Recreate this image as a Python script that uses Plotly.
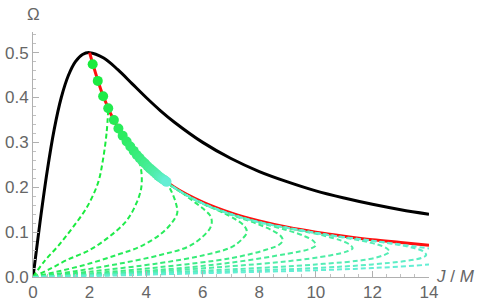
import plotly.graph_objects as go

# Black curve
black_j = [0, 0.25, 0.5, 0.75, 1, 1.25, 1.5, 1.75, 2, 2.5, 3, 3.5, 4, 4.5, 5, 6, 7, 8, 9, 10, 11, 12, 13, 14]
black_w = [0, 0.123, 0.235, 0.329, 0.4, 0.449, 0.48, 0.496, 0.5, 0.488, 0.462, 0.431, 0.4, 0.371, 0.345,
           0.3, 0.264, 0.235, 0.212, 0.192, 0.176, 0.162, 0.150, 0.14]

# Red curve
red_j = [2, 2.5, 3, 3.5, 4, 5, 6, 7, 8, 9, 10, 11, 12, 13, 14]
red_w = [0.5, 0.4, 0.333, 0.286, 0.25, 0.2, 0.167, 0.143, 0.125, 0.111, 0.1, 0.091, 0.083, 0.077, 0.071]

# End-point dots
dot_j = [2.11, 2.29, 2.48, 2.66, 2.86, 3.02, 3.17, 3.31, 3.44, 3.56, 3.67, 3.77, 3.87, 3.96, 4.05,
         4.13, 4.21, 4.28, 4.35, 4.42, 4.48, 4.54, 4.59, 4.64, 4.68, 4.72]
dot_w = [0.474, 0.437, 0.403, 0.376, 0.350, 0.331, 0.315, 0.302, 0.291, 0.281, 0.272, 0.265, 0.258,
         0.253, 0.247, 0.242, 0.238, 0.234, 0.230, 0.226, 0.223, 0.220, 0.218, 0.216, 0.214, 0.212]

# Dashed curves
c1_j = [0, 0.4, 0.9, 1.4, 1.91, 2.3, 2.47, 2.6, 2.66]
c1_w = [0, 0.035, 0.07, 0.11, 0.156, 0.21, 0.26, 0.32, 0.373]
c2_j = [0, 0.6, 1.2, 2.0, 2.7, 3.3, 3.66, 3.83, 3.82, 3.7, 3.5]
c2_w = [0, 0.018, 0.038, 0.06, 0.09, 0.125, 0.165, 0.2, 0.24, 0.266, 0.285]
c3_j = [0, 1, 2, 3, 3.8, 4.5, 4.9, 5.1, 5.05, 4.9, 4.72]
c3_w = [0, 0.014, 0.03, 0.05, 0.068, 0.095, 0.12, 0.143, 0.165, 0.19, 0.211]
c4_j = [0, 1.5, 3, 4.5, 5.5, 6.0, 6.27, 6.32, 6.25, 6.0, 5.6, 5.2, 4.75]
c4_w = [0, 0.013, 0.029, 0.049, 0.068, 0.09, 0.11, 0.125, 0.138, 0.153, 0.172, 0.191, 0.209]
c5_j = [0, 2, 4.5, 6, 7, 7.4, 7.56, 7.48, 7.2, 6.7, 6.0, 5.3, 4.75]
c5_w = [0, 0.012, 0.031, 0.048, 0.066, 0.085, 0.1, 0.113, 0.127, 0.144, 0.163, 0.187, 0.209]
c6_j = [0, 2, 4.5, 7, 8.2, 8.7, 8.83, 8.75, 8.45, 7.9, 7.0, 6.0, 5.3, 4.75]
c6_w = [0, 0.008, 0.022, 0.042, 0.06, 0.072, 0.082, 0.092, 0.104, 0.119, 0.139, 0.164, 0.187, 0.209]
c7_j = [0, 2, 4.5, 7, 9, 9.8, 10.0, 9.92, 9.6, 9.0, 8.0, 7.0, 6.0, 5.3, 4.75]
c7_w = [0, 0.006, 0.016, 0.032, 0.052, 0.063, 0.071, 0.08, 0.091, 0.104, 0.121, 0.14, 0.164, 0.187, 0.209]
c8_j = [0, 2, 4.5, 7, 9, 10.5, 11.1, 11.3, 11.2, 10.9, 10.3, 9.3, 8.0, 7.0, 6.0, 5.3, 4.75]
c8_w = [0, 0.005, 0.013, 0.024, 0.035, 0.048, 0.057, 0.064, 0.072, 0.081, 0.092, 0.105, 0.122, 0.14, 0.164, 0.187, 0.209]
c9_j = [0, 2, 4.5, 7, 10, 11.9, 12.45, 12.6, 12.5, 12.2, 11.6, 10.5, 9.3, 8.0, 7.0, 6.0, 5.3, 4.75]
c9_w = [0, 0.004, 0.01, 0.017, 0.028, 0.04, 0.05, 0.056, 0.064, 0.072, 0.081, 0.093, 0.106, 0.122, 0.14, 0.164, 0.187, 0.209]
c10_j = [0, 2, 4.5, 7, 10, 12, 13.2, 13.75, 13.9, 13.8, 13.5, 12.9, 11.8, 10.5, 9.3, 8.0, 7.0, 6.0, 5.3, 4.75]
c10_w = [0, 0.003, 0.008, 0.013, 0.02, 0.028, 0.036, 0.043, 0.049, 0.057, 0.064, 0.072, 0.082, 0.093, 0.106, 0.122, 0.14, 0.164, 0.187, 0.209]
c11_j = [0, 2, 4.5, 7, 10, 12, 14, 15.0, 15.2, 15.1, 14.5, 13.5, 12, 10.5, 9.3, 8, 7, 6, 5.3, 4.75]
c11_w = [0, 0.002, 0.006, 0.01, 0.015, 0.02, 0.028, 0.038, 0.044, 0.051, 0.059, 0.068, 0.081, 0.093, 0.106, 0.122, 0.14, 0.164, 0.187, 0.209]

x_ticks = [0, 2, 4, 6, 8, 10, 12, 14]
x_tick_labels = ["0", "2", "4", "6", "8", "10", "12", "14"]
y_ticks = [0, 0.1, 0.2, 0.3, 0.4, 0.5]
y_tick_labels = ["0.0", "0.1", "0.2", "0.3", "0.4", "0.5"]

curves = [(c1_j, c1_w), (c2_j, c2_w), (c3_j, c3_w), (c4_j, c4_w), (c5_j, c5_w), (c6_j, c6_w),
          (c7_j, c7_w), (c8_j, c8_w), (c9_j, c9_w), (c10_j, c10_w), (c11_j, c11_w)]

c_start = (25, 235, 60)
c_end = (100, 238, 212)


def mix(t):
    r, g, b = [round(a + (bb - a) * t) for a, bb in zip(c_start, c_end)]
    return f"rgb({r},{g},{b})"


fig = go.Figure()
fig.add_trace(go.Scatter(x=black_j, y=black_w, mode="lines", line=dict(color="black", width=3, shape="spline")))
fig.add_trace(go.Scatter(x=red_j, y=red_w, mode="lines", line=dict(color="#ff1010", width=3, shape="spline")))
n = len(curves)
for i, (cj, cw) in enumerate(curves):
    fig.add_trace(go.Scatter(x=cj, y=cw, mode="lines",
                             line=dict(color=mix(i / (n - 1)), width=2, dash="5px,3px", shape="spline", smoothing=1.0)))
fig.add_trace(go.Scatter(x=dot_j, y=dot_w, mode="markers",
                         marker=dict(size=10, color=list(range(len(dot_j))),
                                     colorscale=[[0, mix(0)], [1, mix(1)]], line=dict(width=0))))

axis_common = dict(showgrid=False, zeroline=False, showline=True, linecolor="#b0b0b0", linewidth=1,
                   ticks="inside", tickcolor="#b0b0b0", ticklen=6, tickwidth=1, automargin=False,
                   tickfont=dict(size=17, color="#666666", family="Liberation Sans"))
fig.update_xaxes(range=[0, 14], tickmode="array", tickvals=x_ticks, ticktext=x_tick_labels,
                 minor=dict(dtick=0.5, tick0=0, ticks="inside", ticklen=3, tickcolor="#c0c0c0"), **axis_common)
fig.update_yaxes(range=[0, 0.546], tickmode="array", tickvals=y_ticks, ticktext=y_tick_labels,
                 minor=dict(dtick=0.02, tick0=0, ticks="inside", ticklen=3, tickcolor="#c0c0c0"), **axis_common)

fig.update_layout(width=479, height=307, margin=dict(l=33, r=50, t=32, b=30),
                  plot_bgcolor="white", paper_bgcolor="white", showlegend=False,
                  annotations=[
                      dict(text="Ω", xref="x", x=0, yref="paper", y=1, xanchor="center", yanchor="middle",
                           yshift=18, showarrow=False, font=dict(size=17, color="#666666", family="Liberation Sans")),
                      dict(text="<i>J</i> / <i>M</i>", xref="paper", x=1, xanchor="left", xshift=5,
                           yref="y", y=0, yanchor="middle", yshift=1, showarrow=False,
                           font=dict(size=17, color="#666666", family="Liberation Sans")),
                  ])
fig.write_html("out.html", config={"displayModeBar": False},
               post_script="document.body.style.margin='0';document.body.style.overflow='hidden';")
